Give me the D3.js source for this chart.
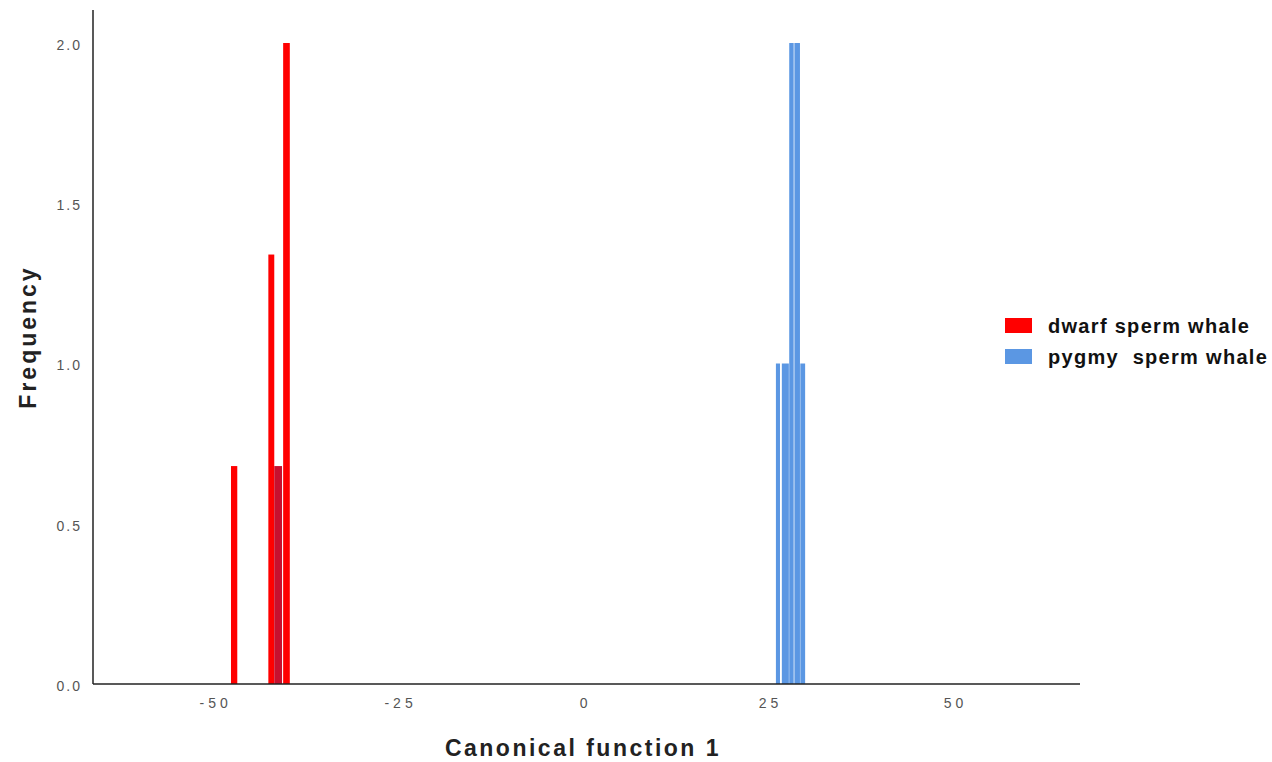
<!DOCTYPE html>
<html>
<head>
<meta charset="utf-8">
<script src="https://cdn.jsdelivr.net/npm/d3@7"></script>
<style>
  body { margin: 0; background: #fff; }
  svg { display: block; }
</style>
</head>
<body>
<div id="chart"></div>
<script>
// histogram bins: [x0, x1] in canonical score, frequency
var dwarfBins = [
  { x0: -47.85, x1: -47.0, freq: 0.68 },
  { x0: -42.8, x1: -42.0, freq: 1.34 },
  { x0: -42.0, x1: -40.95, freq: 0.68, overlap: true },
  { x0: -40.8, x1: -39.9, freq: 2.0 }
];
var pygmyBins = [
  { x0: 25.8, x1: 26.35, freq: 1.0 },
  { x0: 26.6, x1: 27.55, freq: 1.0 },
  { x0: 27.6, x1: 28.2, freq: 2.0 },
  { x0: 28.3, x1: 29.05, freq: 2.0 },
  { x0: 29.1, x1: 29.75, freq: 1.0 }
];
var xTicks = [-50, -25, 0, 25, 50];
var yTicks = [0, 0.5, 1.0, 1.5, 2.0];
var seriesNames = ["dwarf sperm whale", "pygmy  sperm whale"];
var seriesColors = ["#ff0000", "#5b97e3"];

var W = 1272, H = 762;
var mLeft = 93, mRight = 1080, mTop = 10, mBottom = 684;
var FONT = 'Arial, "Liberation Sans", sans-serif';

var svg = d3.select('#chart').append('svg')
  .attr('width', W)
  .attr('height', H);

var x = d3.scaleLinear().domain([-66.5, 66.9]).range([mLeft, mRight]);
var y = d3.scaleLinear().domain([0, 2.103]).range([mBottom, mTop]);

// bars
function drawBars(bins, color, cls) {
  svg.selectAll('.' + cls)
    .data(bins)
    .enter().append('rect')
    .attr('class', cls)
    .attr('x', function(d){ return x(d.x0); })
    .attr('width', function(d){ return x(d.x1) - x(d.x0); })
    .attr('y', function(d){ return y(d.freq); })
    .attr('height', function(d){ return y(0) - y(d.freq); })
    .style('fill', function(d){ return d.overlap ? '#c8102e' : color; });
}
drawBars(dwarfBins, seriesColors[0], 'dwarf');
drawBars(pygmyBins, seriesColors[1], 'pygmy');

// axes
var xAxis = d3.axisBottom(x).tickValues(xTicks).tickSize(0).tickPadding(14)
  .tickFormat(function(d){ return String(d); });
var gx = svg.append('g')
  .attr('transform', 'translate(0,' + mBottom + ')')
  .call(xAxis);
gx.select('.domain').remove();
gx.selectAll('text')
  .attr('font-family', FONT)
  .attr('font-size', 14)
  .attr('letter-spacing', '4px')
  .style('fill', '#555');

var yAxis = d3.axisLeft(y).tickValues(yTicks).tickSize(0).tickPadding(11)
  .tickFormat(d3.format('.1f'));
var gy = svg.append('g')
  .attr('transform', 'translate(' + mLeft + ',2)')
  .call(yAxis);
gy.select('.domain').remove();
gy.selectAll('text')
  .attr('font-family', FONT)
  .attr('font-size', 14)
  .attr('letter-spacing', '2px')
  .style('fill', '#555');

// frame lines
svg.append('line')
  .attr('x1', mLeft).attr('x2', mLeft)
  .attr('y1', mTop).attr('y2', mBottom)
  .style('stroke', '#222').style('stroke-width', 1.5);
svg.append('line')
  .attr('x1', mLeft).attr('x2', mRight)
  .attr('y1', mBottom).attr('y2', mBottom)
  .style('stroke', '#222').style('stroke-width', 1.5);

// axis titles
svg.append('text')
  .attr('x', 583).attr('y', 756)
  .attr('text-anchor', 'middle')
  .attr('font-family', FONT)
  .attr('font-weight', 'bold')
  .attr('font-size', 23)
  .attr('letter-spacing', '2.5px')
  .style('fill', '#222')
  .text('Canonical function 1');

svg.append('text')
  .attr('transform', 'translate(36,337) rotate(-90)')
  .attr('text-anchor', 'middle')
  .attr('font-family', FONT)
  .attr('font-weight', 'bold')
  .attr('font-size', 23)
  .attr('letter-spacing', '3px')
  .style('fill', '#222')
  .text('Frequency');

// legend
var legend = svg.selectAll('.legend')
  .data(seriesNames)
  .enter().append('g')
  .attr('class', 'legend')
  .attr('transform', function(d, i){ return 'translate(1005,' + (318 + i * 31) + ')'; });
legend.append('rect')
  .attr('width', 27)
  .attr('height', 15)
  .style('fill', function(d, i){ return seriesColors[i]; });
legend.append('text')
  .attr('x', 43)
  .attr('y', 15)
  .attr('font-family', FONT)
  .attr('font-weight', 'bold')
  .attr('font-size', 20)
  .attr('letter-spacing', '1.3px')
  .style('white-space', 'pre')
  .style('fill', '#111')
  .text(function(d){ return d; });
</script>
</body>
</html>
